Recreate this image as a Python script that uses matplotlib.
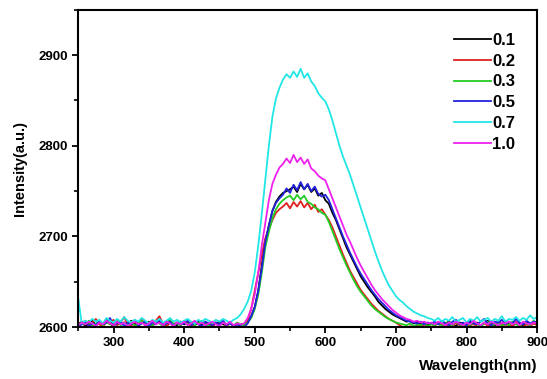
import numpy as np
import matplotlib
matplotlib.use("Agg")
import matplotlib.pyplot as plt
from matplotlib.ticker import MultipleLocator

plt.rcParams['font.family'] = ['Liberation Sans', 'DejaVu Sans']

wavelength = np.arange(250, 901, 5)

labels = ["0.1", "0.2", "0.3", "0.5", "0.7", "1.0"]

s01 = [2603, 2606, 2601, 2604, 2607, 2602, 2605, 2603, 2608, 2604,
       2601, 2606, 2603, 2605, 2602, 2607, 2604, 2601, 2605, 2603,
       2606, 2602, 2604, 2607, 2603, 2601, 2605, 2604, 2602, 2606,
       2603, 2605, 2601, 2604, 2606, 2602, 2605, 2603, 2601, 2604,
       2606, 2603, 2602, 2605, 2601, 2604, 2603,
       2603, 2606, 2612, 2622, 2640, 2668, 2695, 2712, 2728, 2738,
       2744, 2748, 2750, 2752, 2755, 2749, 2758, 2752, 2757, 2749,
       2753, 2745, 2748, 2740, 2736, 2726, 2718, 2708, 2698, 2688,
       2680, 2672, 2664, 2656, 2650, 2644, 2639, 2634, 2628, 2624,
       2620, 2617, 2614, 2612, 2610, 2608, 2606, 2607, 2604, 2606,
       2603, 2605, 2602, 2604,
       2603, 2605, 2602, 2604, 2606, 2603, 2601, 2605, 2604, 2602,
       2606, 2603, 2605, 2601, 2604, 2607, 2603, 2602, 2605, 2604,
       2606, 2603, 2601, 2605, 2604, 2602, 2606, 2603, 2605, 2604]

s02 = [2601, 2604, 2607, 2602, 2605, 2609, 2603, 2600, 2606, 2604,
       2608, 2602, 2605, 2611, 2603, 2601, 2606, 2604, 2609, 2602,
       2605, 2603, 2607, 2612, 2604, 2601, 2606, 2603, 2605, 2602,
       2607, 2604, 2601, 2605, 2603, 2606, 2602, 2604, 2600, 2605,
       2603, 2606, 2601, 2604, 2602, 2603, 2599,
       2600, 2608, 2620, 2640, 2660, 2680, 2698, 2708, 2718, 2726,
       2730, 2733, 2737, 2731, 2738, 2733, 2739, 2732, 2737, 2730,
       2735, 2727, 2730, 2724, 2718, 2710, 2700, 2690, 2680, 2671,
       2662, 2655, 2648, 2641, 2636, 2631, 2626, 2622, 2618, 2615,
       2612, 2609, 2607, 2605, 2602, 2600, 2598, 2601, 2599, 2602,
       2600, 2603, 2601, 2600,
       2602, 2599, 2604, 2601, 2603, 2600, 2605, 2602, 2599, 2603,
       2601, 2604, 2600, 2602, 2605, 2601, 2603, 2599, 2602, 2604,
       2600, 2603, 2601, 2606, 2602, 2600, 2603, 2601, 2604, 2602]

s03 = [2602, 2605, 2603, 2607, 2601, 2604, 2606, 2602, 2605, 2603,
       2604, 2607, 2602, 2605, 2603, 2606, 2601, 2604, 2607, 2603,
       2605, 2602, 2606, 2604, 2601, 2605, 2608, 2603, 2604, 2602,
       2606, 2603, 2605, 2602, 2604, 2607, 2603, 2601, 2605, 2604,
       2602, 2606, 2603, 2604, 2602, 2605, 2603,
       2602, 2605, 2610, 2620, 2636, 2660, 2688, 2705, 2720, 2730,
       2736, 2740, 2743, 2745, 2740, 2746, 2741, 2745, 2738, 2736,
       2732, 2730, 2726, 2724, 2716, 2706, 2696, 2686, 2677, 2668,
       2660, 2652, 2645, 2639, 2634, 2629, 2624, 2620, 2617, 2614,
       2611, 2609, 2607, 2605, 2604, 2603, 2602, 2604, 2601, 2603,
       2602, 2604, 2601, 2603,
       2602, 2604, 2601, 2605, 2603, 2602, 2606, 2603, 2601, 2604,
       2602, 2605, 2603, 2601, 2604, 2606, 2602, 2603, 2605, 2601,
       2604, 2602, 2606, 2603, 2601, 2605, 2604, 2602, 2607, 2604]

s05 = [2600, 2603, 2606, 2601, 2604, 2602, 2607, 2603, 2605, 2610,
       2602, 2604, 2606, 2601, 2605, 2603, 2608, 2602, 2604, 2606,
       2601, 2605, 2603, 2609, 2602, 2604, 2606, 2601, 2605, 2603,
       2604, 2607, 2602, 2605, 2603, 2601, 2606, 2604, 2602, 2605,
       2603, 2607, 2602, 2604, 2601, 2603, 2601,
       2600, 2604, 2612, 2622, 2640, 2665, 2694, 2712, 2728, 2737,
       2742, 2746, 2753, 2748, 2757, 2751, 2760, 2752, 2758, 2750,
       2755, 2747, 2744, 2746, 2740, 2730, 2720, 2710, 2700, 2691,
       2682, 2674, 2666, 2659, 2653, 2647, 2641, 2636, 2631, 2627,
       2623, 2619, 2616, 2613, 2611, 2609, 2607, 2606, 2605, 2604,
       2606, 2603, 2605, 2604,
       2606, 2603, 2607, 2604, 2602, 2606, 2608, 2603, 2605, 2602,
       2607, 2604, 2603, 2606, 2609, 2604, 2602, 2606, 2605, 2608,
       2603, 2606, 2604, 2609, 2605, 2603, 2607, 2604, 2606, 2605]

s07 = [2632, 2604, 2607, 2605, 2609, 2606, 2608, 2604, 2610, 2607,
       2605, 2609, 2606, 2611, 2607, 2605, 2608, 2606, 2610, 2607,
       2604, 2608, 2606, 2609, 2605, 2607, 2610, 2606, 2608, 2605,
       2607, 2609, 2606, 2604, 2608, 2606, 2609, 2607, 2605, 2608,
       2606, 2609, 2607, 2605, 2608, 2610, 2614,
       2620, 2628, 2640, 2660, 2690, 2725, 2762, 2800, 2832, 2852,
       2864, 2873, 2879, 2875, 2882, 2876, 2885, 2875, 2880, 2871,
       2866, 2858, 2853, 2849, 2840, 2828, 2814, 2800, 2788, 2778,
       2768, 2756, 2744, 2732, 2720, 2708, 2696, 2684, 2673, 2663,
       2654, 2646, 2640, 2634, 2630, 2627, 2623, 2620, 2617, 2615,
       2613, 2612, 2610, 2609,
       2607, 2610, 2606, 2609, 2607, 2611, 2606, 2608, 2610, 2605,
       2609, 2607, 2611, 2606, 2608, 2610, 2606, 2609, 2607, 2612,
       2606, 2609, 2608, 2611, 2607, 2610, 2608, 2613, 2609, 2611]

s10 = [2602, 2605, 2603, 2606, 2604, 2601, 2605, 2603, 2607, 2604,
       2602, 2606, 2603, 2605, 2601, 2604, 2606, 2603, 2605, 2602,
       2604, 2607, 2603, 2605, 2602, 2606, 2604, 2601, 2605, 2603,
       2606, 2602, 2604, 2607, 2603, 2605, 2602, 2604, 2606, 2603,
       2601, 2605, 2603, 2606, 2602, 2604, 2603,
       2604, 2610, 2620, 2636, 2660, 2690, 2715, 2740, 2758, 2768,
       2776, 2780, 2786, 2781, 2790, 2782, 2787, 2780, 2785, 2775,
       2772, 2767, 2764, 2762, 2752, 2742, 2732, 2722, 2712, 2702,
       2694, 2685, 2676, 2668, 2661, 2654, 2647, 2641, 2636, 2631,
       2627, 2623, 2619, 2616, 2613, 2611, 2609, 2608, 2606, 2607,
       2605, 2606, 2604, 2605,
       2603, 2606, 2604, 2602, 2605, 2603, 2606, 2604, 2602, 2605,
       2603, 2607, 2604, 2602, 2605, 2603, 2606, 2604, 2602, 2605,
       2604, 2606, 2603, 2605, 2602, 2606, 2604, 2603, 2605, 2604]

series = [s01, s02, s03, s05, s07, s10]
colors = ["#000000", "#e02020", "#22cc22", "#2222dd", "#22e6e6", "#ee22ee"]

fig = plt.figure(figsize=(5.47, 3.79), dpi=100)
ax = fig.add_axes([0.143, 0.137, 0.839, 0.837])

for vals, lab, col in zip(series, labels, colors):
    ax.plot(wavelength, vals, color=col, lw=1.3, label=lab)

ax.set_xlim(250, 900)
ax.set_ylim(2600, 2950)
ax.xaxis.set_major_locator(MultipleLocator(100))
ax.xaxis.set_minor_locator(MultipleLocator(50))
ax.yaxis.set_major_locator(MultipleLocator(100))
ax.yaxis.set_minor_locator(MultipleLocator(50))
ax.tick_params(which='major', direction='out', length=4, width=1.3, labelsize=9.5)
ax.tick_params(which='minor', direction='out', length=3, width=1.2)
for lbl in ax.get_xticklabels() + ax.get_yticklabels():
    lbl.set_fontweight('bold')
for sp in ax.spines.values():
    sp.set_linewidth(1.5)

ax.set_ylabel("Intensity(a.u.)", fontsize=10.5, fontweight='bold', labelpad=8)
ax.set_xlabel("Wavelength(nm)", fontsize=11, fontweight='bold')
ax.xaxis.set_label_coords(1.0, -0.1)
ax.xaxis.label.set_horizontalalignment('right')

leg = ax.legend(loc='upper right', bbox_to_anchor=(0.985, 0.975), frameon=False,
                prop={'weight': 'bold', 'size': 12}, handlelength=2.2,
                handletextpad=0.1, labelspacing=0.35)

fig.savefig("out.png", dpi=100)
